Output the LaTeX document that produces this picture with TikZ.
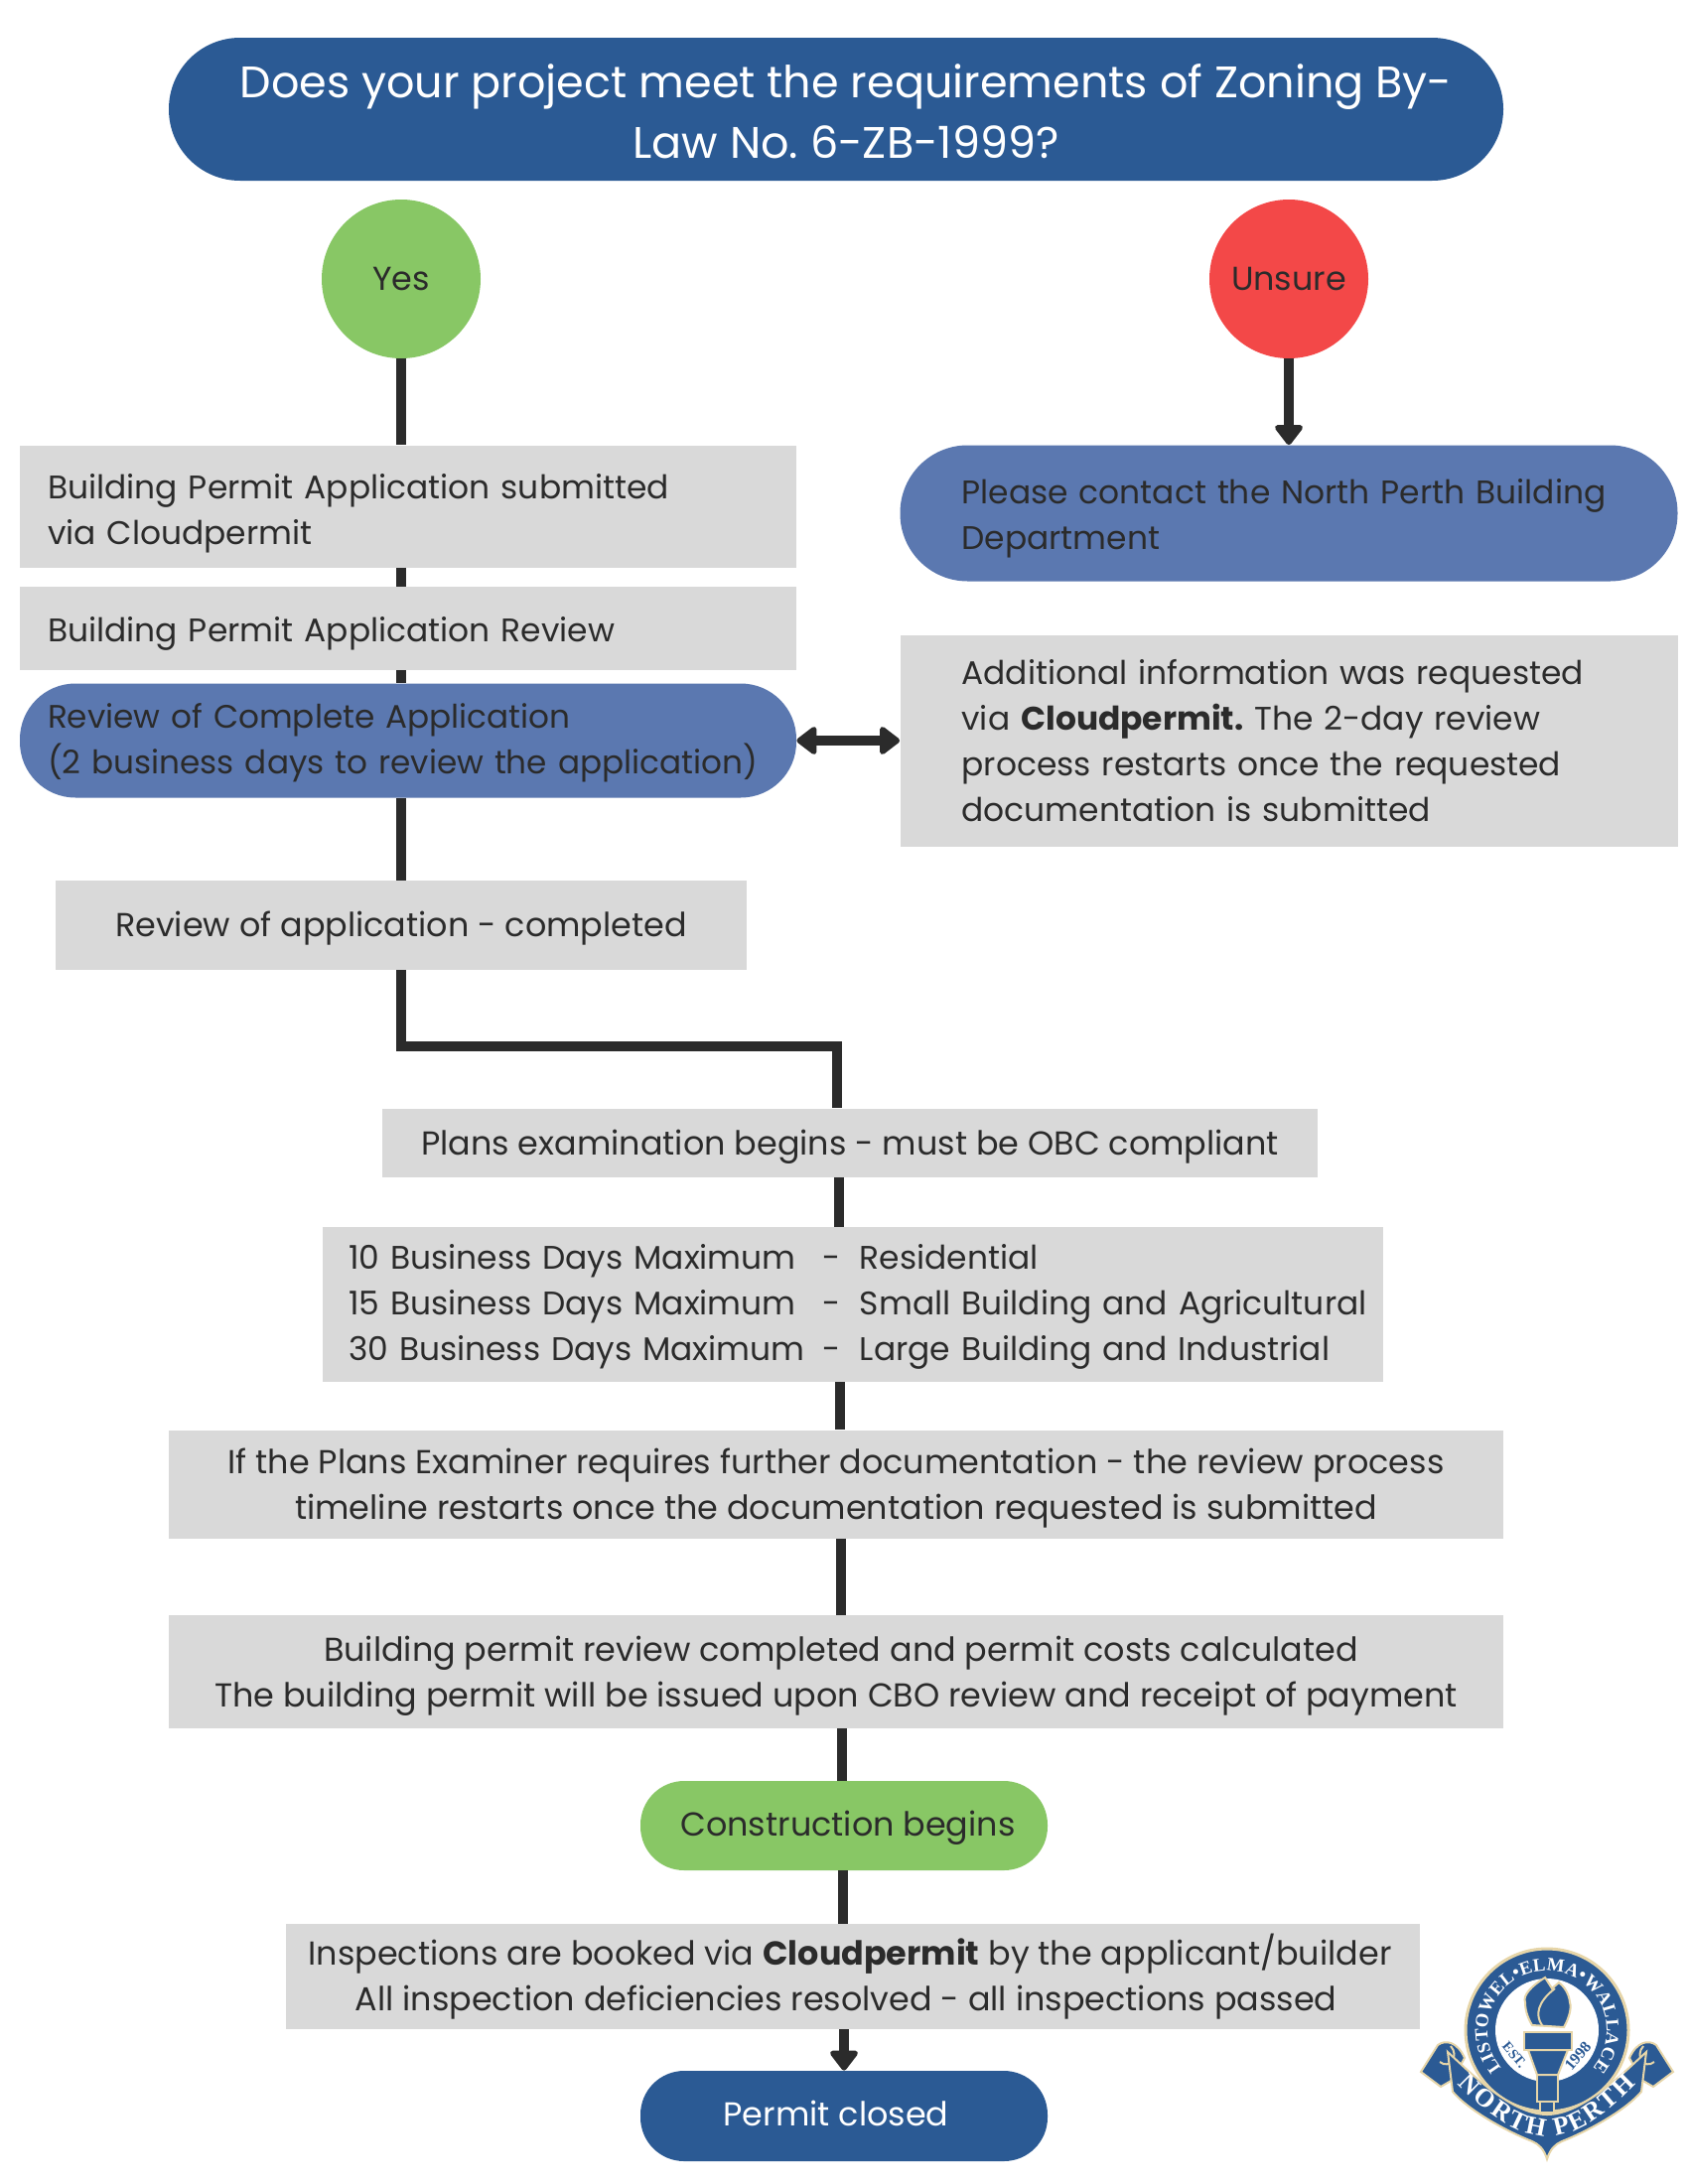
\documentclass[tikz,border=0pt]{standalone}
\usepackage{fontspec}
\usetikzlibrary{arrows.meta}
\usetikzlibrary{decorations.text}
\setmainfont{Poppins}
\newfontfamily\logofont{Liberation Serif}
\definecolor{navy}{HTML}{2B5A94}
\definecolor{midblue}{HTML}{5B78B0}
\definecolor{leaf}{HTML}{88C765}
\definecolor{alert}{HTML}{F34848}
\definecolor{panel}{HTML}{D9D9D9}
\definecolor{ink}{HTML}{2B2B2B}
\definecolor{tan}{HTML}{E6D5A8}
\newcommand{\dayrow}[2]{\makebox[239pt][l]{#1}\makebox[18.5pt][l]{-}\makebox[0pt][l]{#2}}
\newcommand{\drop}[1]{\rule{0pt}{#1pt}}
\begin{document}
\frenchspacing
\begin{tikzpicture}[
  x=0.5pt,y=-0.5pt,
  body/.style={font=\fontsize{16.7}{23}\selectfont,text=ink,inner sep=0pt,align=center},
  upper/.style={font=\fontsize{16.45}{23}\selectfont},
  box/.style={body,fill=panel},
  pill/.style={body,rounded corners=#1},
  blob/.style={body,circle,minimum size=80pt},
  flow/.style={draw=ink,line width=5pt},
  tip/.style={flow,-{Triangle[round,length=11pt,width=16pt]}},
  both/.style={flow,{Triangle[round,length=11pt,width=16pt]}-{Triangle[round,length=11pt,width=16pt]}},
  crest/.style={fill=navy,draw=tan,line width=1pt}
]
\useasboundingbox (0,0) rectangle (1700,2200);

\node[pill=35.9pt,fill=navy,text=white,font=\fontsize{22.25}{30.5}\selectfont,minimum width=672pt,minimum height=72pt] (ask) at (842,110)
  {\hspace*{10pt}\drop{19}Does your project meet the requirements of Zoning By-\\\hspace*{10pt}Law No. 6-ZB-1999?};
\node[blob,fill=leaf] (yes) at (404,281) {Yes};
\node[blob,fill=alert] (unsure) at (1298,281) {Unsure};

\node[box,upper,minimum height=61.5pt,text width=363pt,inner xsep=14pt,align=left] (submit) at (411,510)
  {\drop{19.3}Building Permit Application submitted\\via Cloudpermit};
\node[box,upper,minimum height=42pt,text width=363pt,inner xsep=14pt,align=left] (review) at (411,633)
  {\drop{18}Building Permit Application Review};
\node[pill=28pt,font=\fontsize{16.35}{23}\selectfont,fill=midblue,minimum height=57.5pt,text width=363pt,inner xsep=14pt,align=left] (complete) at (411,746)
  {\drop{15}Review of Complete Application\\(2 business days to review the application)};
\node[box,minimum width=348pt,minimum height=45pt] (done) at (404,932) {\drop{16}Review of application - completed};

\node[pill=34pt,upper,fill=midblue,minimum height=68.5pt,text width=329.5pt,inner xsep=31pt,align=left] (contact) at (1298,517)
  {\drop{18}Please contact the North Perth Building\\Department};
\node[box,upper,minimum height=106.5pt,text width=329.5pt,inner xsep=31pt,align=left] (extra) at (1298,746)
  {\drop{13}Additional information was requested\\via \textbf{Cloudpermit.} The 2-day review\\process restarts once the requested\\documentation is submitted};

\node[box,minimum width=471pt,minimum height=34.5pt] (plans) at (856,1151) {\drop{16.5}Plans examination begins - must be OBC compliant};
\node[box,upper,minimum height=78pt,text width=508pt,inner xsep=13pt,align=left] (days) at (859,1314)
  {\drop{15}\dayrow{10 Business Days Maximum}{Residential}\\\dayrow{15 Business Days Maximum}{Small Building and Agricultural}\\\dayrow{30 Business Days Maximum}{Large Building and Industrial}};
\node[box,minimum width=672pt,minimum height=54.5pt] (further) at (842,1495)
  {\drop{16.5}If the Plans Examiner requires further documentation - the review process\\timeline restarts once the documentation requested is submitted};
\node[box,minimum width=672pt,minimum height=57pt] (costs) at (842,1684)
  {\hspace*{5pt}\drop{16.5}Building permit review completed and permit costs calculated\\The building permit will be issued upon CBO review and receipt of payment};
\node[pill=22pt,fill=leaf,minimum width=205pt,minimum height=45pt] (begin) at (850,1839) {\hspace*{4pt}\drop{15}Construction begins};
\node[box,minimum width=571pt,minimum height=53pt] (inspect) at (859,1991)
  {\drop{15}Inspections are booked via \textbf{Cloudpermit} by the applicant/builder\hspace*{3pt}\\All inspection deficiencies resolved - all inspections passed\hspace*{7pt}};
\node[pill=22pt,fill=navy,text=white,minimum width=205pt,minimum height=45.5pt] (closed) at (850,2131.5) {\rule[-3pt]{0pt}{0pt}Permit closed\hspace*{8pt}};

\draw[flow] (yes.south) -- (yes.south |- submit.north);
\draw[tip] (unsure.south) -- (unsure.south |- contact.north);
\draw[both] (complete.east) -- (extra.west);
\draw[flow] (404,0 |- done.south) |- (843,1054) -- (843,0 |- plans.north);
\foreach \src/\dst/\xx in {submit/review/404,review/complete/404,complete/done/404,
  plans/days/845,days/further/846,further/costs/847,costs/begin/848,begin/inspect/849}
  \draw[flow] (\xx,0 |- \src.south) -- (\xx,0 |- \dst.north);
\draw[tip] (850,0 |- inspect.south) -- (850,0 |- closed.north);

\begin{scope}[shift={(1558,2045)},x=0.5pt,y=0.5pt]
  \foreach \sgn in {-1,1} {
    \draw[crest] (\sgn*127,-42) -- (\sgn*110,-15) .. controls (\sgn*102,-9) and (\sgn*90,-12) .. (\sgn*83,-28) -- (\sgn*95,-50) -- (\sgn*107,-57) -- cycle;
    \draw[draw=tan,line width=1pt] (\sgn*97,-16) .. controls (\sgn*88,-26) and (\sgn*98,-40) .. (\sgn*108,-32);
  }
  \node[circle,crest,line width=1.5pt,minimum size=82pt,inner sep=0pt] (ring) at (0,0) {};
  \node[circle,fill=white,minimum size=52pt,inner sep=0pt] (hole) at (0,0) {};
  \path[decorate,decoration={text along path,text color=white,text align=fit to path,
    text={|\logofont\bfseries\fontsize{9.3}{10}\selectfont|LISTOWEL•ELMA•WALLACE}}]
    (220:60) arc[start angle=220,end angle=-40,radius=60];
  \draw[crest] (-100,-22) .. controls (-75,-45) and (-35,-85) .. (0,-85) .. controls (35,-85) and (75,-45) .. (100,-22)
    -- (95,-62) .. controls (78,-82) and (38,-103) .. (15,-112) .. controls (8,-115) and (3,-120) .. (0,-130)
    .. controls (-3,-120) and (-8,-115) .. (-15,-112) .. controls (-38,-103) and (-78,-82) .. (-95,-62) -- cycle;
  \path[decorate,decoration={text along path,text color=white,text align=fit to path,
    text={|\logofont\bfseries\fontsize{13}{14}\selectfont|NORTH PERTH}}]
    (-90,-54) .. controls (-60,-85) and (-30,-107) .. (0,-107) .. controls (30,-107) and (60,-85) .. (90,-54);
  \node[text=navy,font=\logofont\bfseries\fontsize{7}{8}\selectfont,rotate=-50,inner sep=0pt] (est) at (-33,-25) {EST.};
  \node[text=navy,font=\logofont\bfseries\fontsize{8}{9}\selectfont,rotate=50,inner sep=0pt] (year) at (31,-26) {1998};
  \draw[crest] (-2,53) .. controls (-15,45) and (-25,35) .. (-22,28) .. controls (-22,18) and (-18,10) .. (-15,5)
    -- (17,3) .. controls (22,12) and (25,22) .. (23,28) .. controls (22,38) and (16,45) .. (12,48) -- (5,42) -- cycle;
  \draw[draw=tan,line width=1pt] (8,42) .. controls (-10,28) and (-12,15) .. (-5,5);
  \draw[crest] (-7,-72) rectangle (7,-83);
  \draw[crest] (-10,-45) rectangle (11,-72);
  \draw[crest] (-19,-20) -- (21,-20) -- (11,-45) -- (-10,-45) -- cycle;
  \draw[crest] (-23,-2) rectangle (25,-20);
\end{scope}

\end{tikzpicture}
\end{document}
